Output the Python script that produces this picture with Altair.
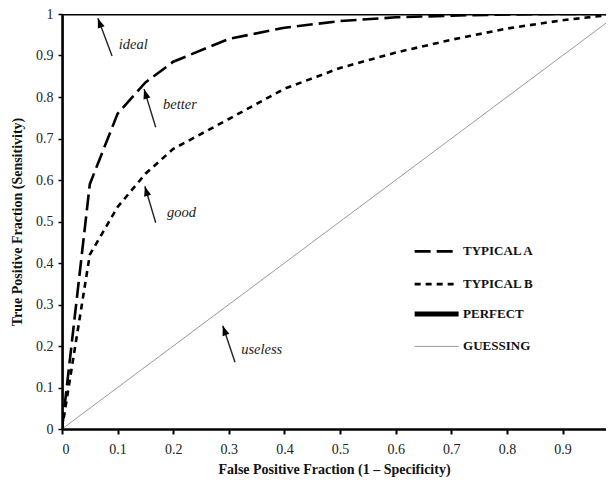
import altair as alt
import pandas as pd

# ROC curves
fpr_a = [0, 0.05, 0.1, 0.15, 0.2, 0.3, 0.4, 0.5, 0.6, 0.7, 0.8, 0.9, 1.0]
tpr_a = [0, 0.59, 0.76, 0.835, 0.885, 0.94, 0.967, 0.983, 0.992, 0.996, 0.999, 1.0, 1.0]
fpr_b = [0, 0.05, 0.1, 0.15, 0.2, 0.3, 0.4, 0.5, 0.6, 0.7, 0.8, 0.9, 1.0]
tpr_b = [0, 0.42, 0.535, 0.615, 0.675, 0.747, 0.82, 0.87, 0.907, 0.938, 0.965, 0.985, 1.0]
fpr_perfect = [0, 0, 1]
tpr_perfect = [0, 1, 1]
fpr_guess = [0, 1]
tpr_guess = [0, 1]

# annotations
ann_text = ["ideal", "better", "good", "useless"]
ann_tx = [0.128, 0.212, 0.215, 0.359]
ann_ty = [0.925, 0.781, 0.521, 0.19]
arrow_x0 = [0.09, 0.1685, 0.1685, 0.311]
arrow_y0 = [0.899, 0.727, 0.497, 0.161]
arrow_x1 = [0.0645, 0.1475, 0.149, 0.289]
arrow_y1 = [0.99, 0.819, 0.585, 0.249]
arrow_angle = [340, 343, 344, 341]

# legend
leg_labels = ["TYPICAL A", "TYPICAL B", "PERFECT", "GUESSING"]
leg_y = [0.428, 0.349, 0.277, 0.199]
leg_x0 = 0.634
leg_x1 = 0.713
leg_tx = 0.721

xs = alt.Scale(domain=[0, 0.978], nice=False)
ys = alt.Scale(domain=[0, 1], nice=False)
FONT = "Liberation Serif"

xaxis = alt.Axis(values=[0, 0.1, 0.2, 0.3, 0.4, 0.5, 0.6, 0.7, 0.8, 0.9], format="~g",
                 title="False Positive Fraction (1 \u2013 Specificity)", grid=False,
                 tickSize=5, tickWidth=2, labelPadding=8, titlePadding=6)
yaxis = alt.Axis(values=[0, 0.1, 0.2, 0.3, 0.4, 0.5, 0.6, 0.7, 0.8, 0.9, 1.0], format="~g",
                 title="True Positive Fraction (Sensitivity)", grid=False,
                 tickSize=4, tickWidth=1.5, labelPadding=5, titlePadding=11)

df_a = pd.DataFrame({"x": fpr_a, "y": tpr_a})
df_b = pd.DataFrame({"x": fpr_b, "y": tpr_b})
df_p = pd.DataFrame({"x": fpr_perfect, "y": tpr_perfect, "o": [0, 1, 2]})
df_g = pd.DataFrame({"x": fpr_guess, "y": tpr_guess})

guess = alt.Chart(df_g).mark_line(color="#999999", strokeWidth=1, clip=True).encode(
    x=alt.X("x:Q", scale=xs, axis=xaxis), y=alt.Y("y:Q", scale=ys, axis=yaxis))
line_b = alt.Chart(df_b).mark_line(color="black", strokeWidth=2.6, strokeDash=[6, 5], clip=True).encode(
    x=alt.X("x:Q", scale=xs), y=alt.Y("y:Q", scale=ys))
line_a = alt.Chart(df_a).mark_line(color="black", strokeWidth=2.6, strokeDash=[16, 6], clip=True).encode(
    x=alt.X("x:Q", scale=xs), y=alt.Y("y:Q", scale=ys))
perfect = alt.Chart(df_p).mark_line(color="black", strokeWidth=3, clip=True).encode(
    x=alt.X("x:Q", scale=xs), y=alt.Y("y:Q", scale=ys), order="o:O")

df_ann = pd.DataFrame({"t": ann_text, "tx": ann_tx, "ty": ann_ty,
                       "x0": arrow_x0, "y0": arrow_y0, "x1": arrow_x1, "y1": arrow_y1,
                       "ang": arrow_angle})
ann_t = alt.Chart(df_ann).mark_text(font=FONT, fontSize=14.5, fontStyle="italic", color="#222").encode(
    x=alt.X("tx:Q", scale=xs), y=alt.Y("ty:Q", scale=ys), text="t:N")
ann_r = alt.Chart(df_ann).mark_rule(color="#222", strokeWidth=1.4).encode(
    x=alt.X("x0:Q", scale=xs), y=alt.Y("y0:Q", scale=ys), x2="x1:Q", y2="y1:Q")
ann_h = alt.Chart(df_ann).mark_point(shape="M0,0 L-0.4,1.1 L0.4,1.1 Z", filled=True, color="black",
                                     size=320, opacity=1, strokeWidth=0).encode(
    x=alt.X("x1:Q", scale=xs), y=alt.Y("y1:Q", scale=ys), angle=alt.Angle("ang:Q", scale=None))

df_leg = pd.DataFrame({"lab": leg_labels, "y": leg_y, "x0": [leg_x0] * 4, "x1": [leg_x1] * 4,
                       "tx": [leg_tx] * 4})
leg_layers = []
styles = [dict(strokeWidth=2.6, strokeDash=[16, 6], color="black"),
          dict(strokeWidth=2.6, strokeDash=[6, 5], color="black"),
          dict(strokeWidth=5, color="black"),
          dict(strokeWidth=1, color="#999999")]
for i, st in enumerate(styles):
    leg_layers.append(alt.Chart(df_leg.iloc[[i]]).mark_rule(**st).encode(
        x=alt.X("x0:Q", scale=xs), x2="x1:Q", y=alt.Y("y:Q", scale=ys)))
leg_text = alt.Chart(df_leg).mark_text(font=FONT, fontSize=13, fontWeight="bold", align="left",
                                        color="#111").encode(
    x=alt.X("tx:Q", scale=xs), y=alt.Y("y:Q", scale=ys), text="lab:N")

chart = alt.layer(guess, line_b, line_a, perfect, ann_r, ann_h, ann_t, *leg_layers, leg_text).properties(
    width=544, height=415,
    autosize=alt.AutoSizeParams(type="none"),
    padding={"left": 54, "top": 6, "right": 0, "bottom": 49},
).configure_view(stroke=None).configure_axis(
    domainColor="black", domainWidth=2.5, tickColor="black",
    labelFont=FONT, labelFontSize=14, labelColor="#222",
    titleFont=FONT, titleFontSize=14, titleFontWeight="bold", titleColor="#111",
)

chart.save("out.html", embed_options={"renderer": "svg", "actions": False})
